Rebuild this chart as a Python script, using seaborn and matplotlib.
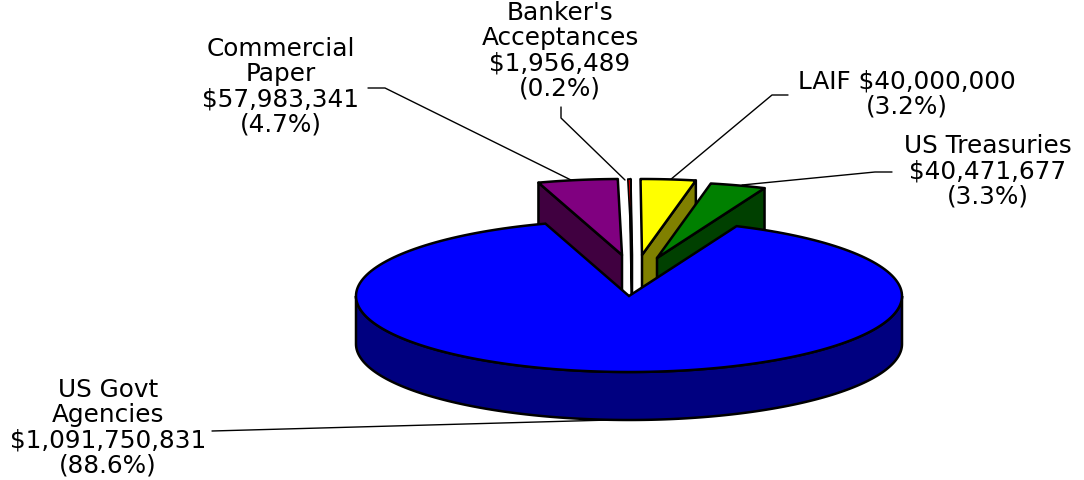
import numpy as np
import matplotlib.pyplot as plt
import seaborn as sns

categories = ["US Govt Agencies", "Commercial Paper", "Banker's Acceptances", "LAIF", "US Treasuries"]
values = [1091750831, 57983341, 1956489, 40000000, 40471677]
labels = [
    "US Govt\nAgencies\n$1,091,750,831\n(88.6%)",
    "Commercial\nPaper\n$57,983,341\n(4.7%)",
    "Banker's\nAcceptances\n$1,956,489\n(0.2%)",
    "LAIF $40,000,000\n(3.2%)",
    "US Treasuries\n$40,471,677\n(3.3%)",
]
top_colors = ["#0000ff", "#800080", "#ff0000", "#ffff00", "#008000"]
wall_colors = ["#000080", "#400040", "#000000", "#808000", "#004000"]

sns.set_theme(style="white")
plt.rcParams['font.family'] = ['DejaVu Sans']

# pie geometry, in pixels of the picture
cx, cy, rx, ry, depth = 629, 296, 273, 76, 48
start = 66.8
# how far each slice is pulled out of the pie
offsets = [(0, 0), (-7, -41), (3, -41), (13, -41), (28, -38)]
label_pos = [(108, 428), (281, 87), (560, 51), (907, 94), (988, 171)]
leaders = [
    [(212, 431), (610, 420)],
    [(368, 88), (385, 88), (573, 181)],
    [(561, 107), (561, 118), (625, 180)],
    [(788, 95), (772, 95), (670, 180)],
    [(892, 172), (875, 172), (742, 185)],
]

fig = plt.figure(figsize=(10.84, 4.8), dpi=100)
ax = fig.add_axes([0, 0, 1, 1])
ax.set_xlim(0, 1084)
ax.set_ylim(480, 0)
ax.axis("off")


def rim(a0, a1, dx=0, dy=0):
    t = np.radians(np.linspace(a0, a1, 200))
    return cx + dx + rx * np.cos(t), cy + dy - ry * np.sin(t)


# slice angles, clockwise from the start angle
sweeps = np.array(values) / sum(values) * 360
ends = start - np.cumsum(sweeps)
begins = ends + sweeps
lw = 1.8

# small slices first, the big one goes over them
for i in [1, 2, 3, 4]:
    dx, dy = offsets[i]
    x, y = rim(begins[i], ends[i], dx, dy)
    ax0, ay0 = cx + dx, cy + dy
    # cut face on the side that faces us
    if i == 1:
        wx, wy = x[0], y[0]
    else:
        wx, wy = x[-1], y[-1]
    ax.fill([ax0, wx, wx, ax0], [ay0, wy, wy + depth, ay0 + depth],
            facecolor=wall_colors[i], edgecolor="black", lw=lw, joinstyle="round", zorder=2 + i * 0.1)
    # the thin red sliver would vanish under a full width edge
    ax.fill(np.r_[ax0, x], np.r_[ay0, y], facecolor=top_colors[i], edgecolor="black",
            lw=1.2 if i == 2 else lw, joinstyle="round", zorder=2 + i * 0.1)

# big slice: outer wall then top
x, y = rim(180, 360)
ax.fill(np.r_[x, x[::-1]], np.r_[y, y[::-1] + depth], facecolor=wall_colors[0], edgecolor="black",
        lw=lw, zorder=3)
x, y = rim(begins[0], ends[0])
ax.fill(np.r_[cx, x], np.r_[cy, y], facecolor=top_colors[0], edgecolor="black", lw=lw, zorder=3.1)

for pts in leaders:
    px, py = zip(*pts)
    ax.plot(px, py, color="black", lw=1, zorder=1)

for text, (tx, ty) in zip(labels, label_pos):
    ax.text(tx, ty, text, ha="center", va="center", fontsize=17.8, color="black",
            linespacing=1.06, zorder=5)

fig.savefig("out.png", dpi=100)
